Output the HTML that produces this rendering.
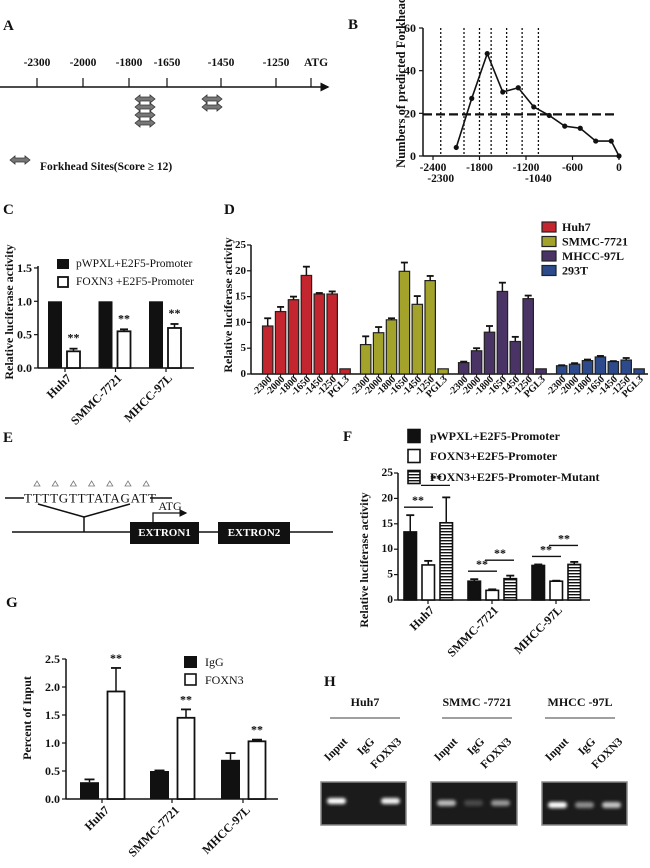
<!DOCTYPE html>
<html><head><meta charset="utf-8"><style>
html,body{margin:0;padding:0;background:#fff}
svg{display:block;font-family:"Liberation Serif",serif;font-weight:bold}
</style></head><body>
<svg id="fig" width="650" height="868" viewBox="0 0 650 868">
<defs>
<pattern id="stripes" width="4" height="3" patternUnits="userSpaceOnUse"><rect width="4" height="3" fill="#fff"/><rect width="4" height="1.4" fill="#111"/></pattern>
<filter id="blur" x="-50%" y="-50%" width="200%" height="200%"><feGaussianBlur stdDeviation="1.6"/></filter>
<marker id="arr" markerWidth="6" markerHeight="6" refX="5" refY="3" orient="auto"><path d="M0,0 L6,3 L0,6 z" fill="#111"/></marker>
</defs>
<g id="root"></g>
</svg>
<script>
// ---------- data ----------
const aTickLabels = ["-2300","-2000","-1800","-1650","-1450","-1250","ATG"];
const aTickX = [37,83,129,167,221,276,311];
const bPos = [-2100,-1900,-1700,-1500,-1300,-1100,-900,-700,-500,-300,-100,0];
const bCounts = [4,27,48,30,32,23,19,14,13,7,7,0];
const bDotted = [-2300,-2000,-1800,-1650,-1450,-1250,-1040];
const bXTicks = [-2400,-1800,-1200,-600,0];
const bYTicks = [0,20,40,60];
const cCats = ["Huh7","SMMC-7721","MHCC-97L"];
const cCtrl = [1,1,1];
const cFoxn3 = [0.25,0.55,0.6];
const cFoxn3Err = [0.04,0.03,0.06];
const cYTicks = [0,0.5,1.0,1.5];
const dCells = ["Huh7","SMMC-7721","MHCC-97L","293T"];
const dConstructs = ["-2300","-2000","-1800","-1650","-1450","-1250","PGL3"];
const dHuh7 = [9.3,12.1,14.4,19.1,15.5,15.5,1.0];
const dSmmc = [5.7,8.0,10.5,19.9,13.5,18.1,1.0];
const dMhcc = [2.2,4.5,8.1,16.0,6.3,14.6,1.0];
const d293 = [1.6,1.9,2.6,3.3,2.4,2.7,1.0];
const dHuh7Err = [1.5,0.9,0.6,1.7,0.2,0.5,0];
const dSmmcErr = [1.6,1.1,0.3,1.7,1.6,0.9,0];
const dMhccErr = [0.2,0.5,1.2,1.7,0.9,0.6,0];
const d293Err = [0.1,0.2,0.2,0.2,0.1,0.4,0];
const dYTicks = [0,5,10,15,20,25];
const fCats = ["Huh7","SMMC-7721","MHCC-97L"];
const fCtrl = [13.4,3.7,6.8];
const fFoxn3 = [6.9,1.9,3.7];
const fMut = [15.2,4.2,7.0];
const fCtrlErr = [3.3,0.4,0.2];
const fFoxn3Err = [0.8,0.2,0.1];
const fMutErr = [5.0,0.6,0.5];
const fYTicks = [0,5,10,15,20,25];
const gCats = ["Huh7","SMMC-7721","MHCC-97L"];
const gIgG = [0.3,0.5,0.7];
const gIgGErr = [0.05,0.01,0.12];
const gFoxn3 = [1.92,1.45,1.03];
const gFoxn3Err = [0.42,0.15,0.03];
const gYTicks = ["0.0","0.5","1.0","1.5","2.0","2.5"];
const hCells = ["Huh7","SMMC  -7721","MHCC  -97L"];
const hLanes = ["Input","IgG","FOXN3"];
const hBand = [[1,0,0.95],[0.7,0.2,0.55],[1,0.5,0.75]];

// ---------- helpers ----------
const NS="http://www.w3.org/2000/svg";
const root=document.getElementById('root');
function el(tag,attrs,parent){const e=document.createElementNS(NS,tag);for(const k in attrs)e.setAttribute(k,attrs[k]);(parent||root).appendChild(e);return e;}
function txt(x,y,s,size,anchor,parent,extra){const t=el('text',Object.assign({x:x,y:y,'font-size':size,'text-anchor':anchor||'middle','dominant-baseline':'central',fill:'#111'},extra||{}),parent);t.textContent=s;return t;}
function grp(name){const g=el('g',{});return g;}
function line(x1,y1,x2,y2,w,parent,extra){return el('line',Object.assign({x1:x1,y1:y1,x2:x2,y2:y2,stroke:'#111','stroke-width':w||1.5},extra||{}),parent);}
function panelLabel(s,x,y){const t=txt(x,y,s,15,'start');}
function dblArrow(cx,cy,parent){el('path',{d:`M${cx-10},${cy} L${cx-5},${cy-4} L${cx-5},${cy-2} L${cx+5},${cy-2} L${cx+5},${cy-4} L${cx+10},${cy} L${cx+5},${cy+4} L${cx+5},${cy+2} L${cx-5},${cy+2} L${cx-5},${cy+4} Z`,fill:'#777',stroke:'#333','stroke-width':0.8},parent);}
function errBar(x,yTop,yErr,w,parent){line(x,yTop,x,yErr,1.5,parent);line(x-w,yErr,x+w,yErr,1.8,parent);}

// ---------- Panel A ----------
panelLabel('A',3,26);
{const g=grp('panel-a-promoter-map');
 line(0,87,328,87,1.5,g,{'marker-end':'url(#arr)'});
 aTickX.forEach((x,i)=>{line(x,78,x,87,1.2,g);txt(x+(i==6?5:0),63,aTickLabels[i],11.5,'middle',g);});
 [99,107,115,123].forEach(y=>dblArrow(145,y,g));
 [99,107].forEach(y=>dblArrow(212,y,g));
 dblArrow(20,160,g);
 txt(40,167,'Forkhead Sites(Score \u2265  12)',11.5,'start',g);
}

// ---------- Panel B ----------
panelLabel('B',348,25);
{const g=grp('panel-b-forkhead-chart');
 const bx=v=>619+v*0.0775, by=v=>156-v*(128/60);
 bDotted.forEach(v=>line(bx(v),28,bx(v),156,1.3,g,{'stroke-dasharray':'2,2'}));
 line(423,by(19.5),617,by(19.5),2.2,g,{'stroke-dasharray':'9,4'});
 line(423,28,423,156,1.5,g);line(423,156,619,156,1.5,g);
 bYTicks.forEach(v=>{line(419,by(v),423,by(v),1.2,g);txt(416,by(v),String(v),12,'end',g);});
 bXTicks.forEach(v=>{line(bx(v),156,bx(v),160,1.2,g);txt(bx(v),168,String(v),11.5,'middle',g);});
 txt(bx(-2300),179,'-2300',11.5,'middle',g);txt(bx(-1040),179,'-1040',11.5,'middle',g);
 const pts=bPos.map((p,i)=>bx(p)+','+by(bCounts[i])).join(' ');
 const pl=el('polyline',{points:pts,fill:'none',stroke:'#111','stroke-width':1.6},g);
 
 bPos.forEach((p,i)=>{const c=el('circle',{cx:bx(p),cy:by(bCounts[i]),r:2.6,fill:'#111'},g);});
 const yt=txt(0,0,'Numbers of predicted Forkhead',12.5,'middle',g,{transform:'translate(401,82) rotate(-90)'});
 
}

// ---------- Panel C ----------
panelLabel('C',3,210);
{const g=grp('panel-c-chart');
 const cy=v=>368-v*66.7, cCenter=[65,115.5,166];
 line(38,266,38,368,1.5,g);line(38,368,194,368,1.5,g);
 cYTicks.forEach(v=>{line(34,cy(v),38,cy(v),1.2,g);txt(32,cy(v),v.toFixed(1),12,'end',g);});
 cCats.forEach((c,i)=>{
  const x0=cCenter[i]-17;
  const b1=el('rect',{x:x0,y:cy(cCtrl[i]),width:14,height:368-cy(cCtrl[i]),fill:'#111'},g);
  
  const b2=el('rect',{x:x0+19,y:cy(cFoxn3[i]),width:13,height:368-cy(cFoxn3[i]),fill:'#fff',stroke:'#111','stroke-width':1.8},g);
  
  errBar(x0+25.5,cy(cFoxn3[i]),cy(cFoxn3[i]+cFoxn3Err[i]),4,g);
  txt(x0+25.5,cy(cFoxn3[i]+cFoxn3Err[i])-11,'**',12,'middle',g);
  line(cCenter[i],368,cCenter[i],372,1.2,g);
  txt(0,0,c,12,'end',g,{transform:`translate(${cCenter[i]+4},376) rotate(-45)`});
 });
 el('rect',{x:57,y:259,width:12,height:10,fill:'#111'},g);
 el('rect',{x:58,y:277,width:10,height:10,fill:'#fff',stroke:'#111','stroke-width':1.8},g);
 txt(76,264,'pWPXL+E2F5-Promoter',11.5,'start',g,{'font-weight':'normal'});
 txt(76,282,'FOXN3 +E2F5-Promoter',11.5,'start',g,{'font-weight':'normal'});
 txt(0,0,'Relative luciferase activity',12,'middle',g,{transform:'translate(9,312) rotate(-90)'});
}

// ---------- Panel D ----------
panelLabel('D',224,210);
{const g=grp('panel-d-chart');
 const dy=v=>374-v*5.16;
 const series=[dHuh7,dSmmc,dMhcc,d293], errs=[dHuh7Err,dSmmcErr,dMhccErr,d293Err];
 const colors=['#c3262e','#a3a32c','#4a3466','#2c4a8c'];
 line(251,245,251,374,1.5,g);line(251,374,648,374,1.5,g);
 dYTicks.forEach(v=>{line(247,dy(v),251,dy(v),1.2,g);txt(246,dy(v),String(v),11,'end',g);});
 series.forEach((s,gi)=>{
  const start=262.5+gi*98;
  s.forEach((v,i)=>{
   const x=start+i*12.9;
   const r=el('rect',{x:x,y:dy(v),width:10.4,height:374-dy(v),fill:colors[gi],stroke:'#222','stroke-width':1.2},g);
   
   
   if(errs[gi][i]>0)errBar(x+5.2,dy(v),dy(v+errs[gi][i]),3.5,g);
   line(x+5.2,374,x+5.2,377,1,g);
   txt(0,0,dConstructs[i],10,'end',g,{transform:`translate(${x+8},378) rotate(-45)`});
  });
 });
 dCells.forEach((c,i)=>{
  const yy=227+i*14.5;
  el('rect',{x:542,y:yy-5,width:14,height:10,fill:colors[i],stroke:'#222','stroke-width':1.2},g);
  const t=txt(562,yy,c,12,'start',g);
  
 });
 txt(0,0,'Relative luciferase activity',12,'middle',g,{transform:'translate(228,305) rotate(-90)'});
}

// ---------- Panel E ----------
panelLabel('E',3,438);
{const g=grp('panel-e-gene-diagram');
 for(let i=0;i<7;i++){const x=37+i*18.2;el('path',{d:`M${x-3},${486} L${x},${481} L${x+3},${486} Z`,fill:'none',stroke:'#777','stroke-width':0.8},g);}
 line(5,498,24,498,1.5,g);
 txt(24,498,'TTTTGTTTATAGATT',13,'start',g,{'font-weight':'normal',textLength:132});
 line(150,498,172,498,1.5,g);
 line(38,504,84,517,1.5,g);line(130,504,84,517,1.5,g);line(84,517,84,532,1.5,g);
 line(12,532,333,532,1.6,g);
 el('rect',{x:130,y:522,width:69,height:22,fill:'#111'},g);
 el('rect',{x:218,y:522,width:72,height:22,fill:'#111'},g);
 txt(164.5,533,'EXTRON1',11,'middle',g,{fill:'#fff'});
 txt(254,533,'EXTRON2',11,'middle',g,{fill:'#fff'});
 el('path',{d:'M153,522 L153,513 L186,513',fill:'none',stroke:'#111','stroke-width':1.3,'marker-end':'url(#arr)'},g);
 txt(170,506,'ATG',12,'middle',g,{'font-weight':'normal'});
}

// ---------- Panel F ----------
panelLabel('F',343,437);
{const g=grp('panel-f-chart');
 const fy=v=>600-v*5.08;
 line(398,473,398,600,1.5,g);line(398,600,590,600,1.5,g);
 fYTicks.forEach(v=>{line(394,fy(v),398,fy(v),1.2,g);txt(393,fy(v),String(v),11.5,'end',g);});
 const starts=[404,468,532];
 fCats.forEach((c,i)=>{
  const s=starts[i];
  const vals=[fCtrl[i],fFoxn3[i],fMut[i]], er=[fCtrlErr[i],fFoxn3Err[i],fMutErr[i]];
  const fills=['#111','#fff','url(#stripes)'], nm=['pwpxl','foxn3','foxn3-mutant'];
  vals.forEach((v,j)=>{
   const x=s+j*18;
   const r=el('rect',{x:x,y:fy(v),width:12.5,height:600-fy(v),fill:fills[j],stroke:'#111','stroke-width':1.6},g);
   
   errBar(x+6.25,fy(v),fy(v+er[j]),4,g);
  });
  const cx=s+24;
  line(cx,600,cx,604,1.2,g);
  txt(0,0,c,12,'end',g,{transform:`translate(${cx+4},608) rotate(-45)`});
  const y1=Math.min(fy(vals[0]+er[0]),fy(vals[1]+er[1]))-8;
  const y2=Math.min(y1-11,fy(vals[2]+er[2])-12);
  line(s,y1,s+29,y1,1.3,g);txt(s+14,y1-7,'**',12,'middle',g);
  line(s+17,y2,s+46,y2,1.3,g);txt(s+32,y2-7,'**',12,'middle',g);
 });
 const ly=[436,456,477], ln=['pWPXL+E2F5-Promoter','FOXN3+E2F5-Promoter','FOXN3+E2F5-Promoter-Mutant'], lf=['#111','#fff','url(#stripes)'];
 ly.forEach((y,i)=>{el('rect',{x:408,y:y-6.5,width:12,height:13,fill:lf[i],stroke:'#111','stroke-width':1.6},g);const t=txt(430,y,ln[i],12,'start',g);});
 txt(0,0,'Relative luciferase activity',12,'middle',g,{transform:'translate(364,560) rotate(-90)'});
}

// ---------- Panel G ----------
panelLabel('G',6,603);
{const g=grp('panel-g-chart');
 const gy=v=>799-v*56;
 line(66,659,66,799,1.5,g);line(66,799,278,799,1.5,g);
 gYTicks.forEach(s=>{const v=parseFloat(s);line(62,gy(v),66,gy(v),1.2,g);txt(60,gy(v),s,12,'end',g);});
 const starts=[80,150,221];
 gCats.forEach((c,i)=>{
  const s=starts[i];
  const b1=el('rect',{x:s,y:gy(gIgG[i]),width:19,height:799-gy(gIgG[i]),fill:'#111'},g);
  
  errBar(s+9.5,gy(gIgG[i]),gy(gIgG[i]+gIgGErr[i]),5,g);
  const b2=el('rect',{x:s+27.5,y:gy(gFoxn3[i]),width:17,height:799-gy(gFoxn3[i]),fill:'#fff',stroke:'#111','stroke-width':1.8},g);
  
  errBar(s+36,gy(gFoxn3[i]),gy(gFoxn3[i]+gFoxn3Err[i]),5,g);
  txt(s+36,gy(gFoxn3[i]+gFoxn3Err[i])-10,'**',12,'middle',g);
  const cx=s+22;line(cx,799,cx,803,1.2,g);
  txt(0,0,c,12,'end',g,{transform:`translate(${cx+5},808) rotate(-45)`});
 });
 el('rect',{x:184,y:656,width:13,height:12,fill:'#111'},g);
 el('rect',{x:185,y:674,width:11,height:11,fill:'#fff',stroke:'#111','stroke-width':1.6},g);
 txt(205,662,'IgG',12,'start',g,{'font-weight':'normal'});
 txt(205,680,'FOXN3',12,'start',g,{'font-weight':'normal'});
 txt(0,0,'Percent of Input',12,'middle',g,{transform:'translate(27,718) rotate(-90)'});
}

// ---------- Panel H ----------
panelLabel('H',324,682);
{const g=grp('panel-h-gels');
 const gelX=[321,431,542], gelW=[85,86,85], centers=[365,477,580];
 hCells.forEach((c,i)=>{
  txt(centers[i],702,c,12,'middle',g,{'xml:space':'preserve'});
  line(centers[i]-35,718,centers[i]+35,718,1.3,g,{stroke:'#666'});
  const gel=el('rect',{x:gelX[i],y:782,width:gelW[i],height:43,fill:'#1b1b1b',stroke:'#888','stroke-width':1.5},g);
  
  hLanes.forEach((l,j)=>{
   const lx=gelX[i]+15+j*27;
   txt(0,0,l,11.5,'end',g,{transform:`translate(${lx+10},740) rotate(-45)`});
   const a=hBand[i][j];
   if(a>0.05){const b=el('rect',{x:lx-9,y:801+i*2-3,width:19,height:6,rx:3,fill:'#fff',opacity:a,filter:'url(#blur)'},g);
    }
  });
 });
}
</script>
</body></html>
